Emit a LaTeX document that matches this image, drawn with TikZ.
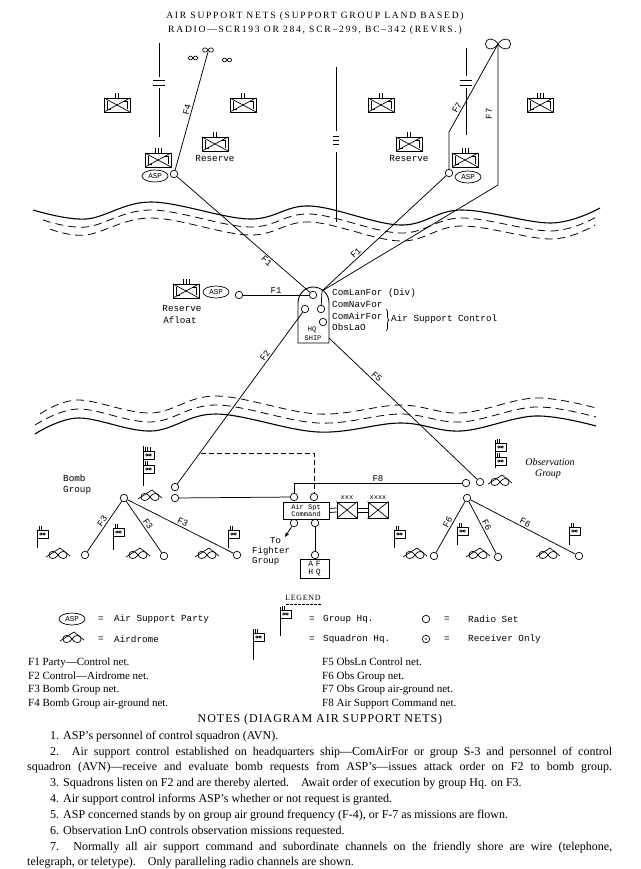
\documentclass[tikz,border=0pt]{standalone}
\usepackage{fontspec}
\setmainfont{Liberation Serif}
\newfontfamily\monof{Liberation Mono}
\usetikzlibrary{shapes.geometric,decorations.pathreplacing,arrows.meta}

\newcommand\infsign[3]{\begin{scope}[shift={(#1,#2)},scale=#3]
\draw[symline] (0,0) .. controls (3,-5) and (9,-4.5) .. (9,0) .. controls (9,4.5) and (3,5) .. (0,0) .. controls (-3,-5) and (-9,-4.5) .. (-9,0) .. controls (-9,4.5) and (-3,5) .. (0,0);
\end{scope}}
\newcommand\airdr[2]{\infsign{#1}{#2}{1}\begin{scope}[shift={(#1,#2)}]\draw[symline] (-12,2) -- (2,-7) -- (12,1);\end{scope}}
\newcommand\infunit[3]{\begin{scope}[shift={(#1,#2)}]
 \draw[symline,line width=0.9pt] (-13,-7) rectangle (13,7);
 \draw[symline] (-13,-7) -- (13,7) (-13,7) -- (13,-7);
 \draw[symline,line width=0.5pt] (-10,-4) -- (-10,4) -- (-6,4) (7,-4) -- (10,-4) -- (10,4);
 \foreach \k in {1,...,#3}{\draw[symline] ({(\k-(#3+1)/2)*3},-7) -- ++(0,-5);}
\end{scope}}
\newcommand\flagbox[3]{\begin{scope}[shift={(#1,#2)}]
 \draw[symline] (0,0) rectangle (11,8);
 \foreach \k in {1,...,#3}{\draw[symline,line width=0.5pt] ({2.5+(\k-1)*2.2},0) -- ++(0,-4);}
\end{scope}\infsign{#1+5.5}{#2+4}{0.32}}

\begin{document}
\begin{tikzpicture}[x=1pt,y=-1pt,
 symline/.style={line width=0.7pt,line join=round},
 net/.style={line width=0.75pt},
 wavedash/.style={line width=0.8pt,dash pattern=on 8pt off 5pt},
 radio/.style={circle,draw,line width=0.7pt,minimum size=7.5pt,inner sep=0pt},
 aspnode/.style={ellipse,draw,line width=0.7pt,minimum width=26pt,minimum height=12pt,inner sep=0pt,font=\monof\fontsize{7.5}{7.5}\selectfont},
 lab/.style={font=\monof\fontsize{9}{9}\selectfont,inner sep=1.5pt},
 hand/.style={font=\monof\fontsize{9.3}{10}\selectfont,inner sep=0pt},
 small/.style={font=\monof\fontsize{7}{7}\selectfont,inner sep=0pt},
 notef/.style={font=\fontsize{12}{13}\selectfont,inner sep=0pt,anchor=base west},
 listf/.style={font=\fontsize{11}{12}\selectfont,inner sep=0pt,anchor=base west},
]
\fill[white] (0,0) rectangle (640,869);
\useasboundingbox (0,0) rectangle (640,869);

% ---------- title
\node[font=\fontsize{9.6}{10}\selectfont\addfontfeature{LetterSpace=18},anchor=base,inner sep=0pt] (title1) at (315,19) {AIR SUPPORT NETS (SUPPORT GROUP LAND BASED)};
\node[font=\fontsize{9.6}{10}\selectfont\addfontfeature{LetterSpace=18},anchor=base,inner sep=0pt] (title2) at (315,33) {RADIO—SCR193 OR 284, SCR–299, BC–342 (REVRS.)};

% ---------- boundary lines
\draw[net] (159,43) -- (159,77) (159,88) -- (159,137);
\draw[net] (153,80) -- (165,80) (153,85) -- (165,85);
\draw[net] (466,48) -- (466,76) (466,88) -- (466,135);
\draw[net] (460,80) -- (472,80) (460,85) -- (472,85);
\draw[net] (336,67) -- (336,131) (336,152) -- (336,222);
\draw[net] (333,136) -- (339,136) (333,140) -- (339,140) (333,144) -- (339,144);

% ---------- front units
\infunit{117}{105}{2}
\infunit{243}{105}{2}
\infunit{381}{105}{2}
\infunit{540}{105}{3}
\infunit{215}{144}{2}
\infunit{409}{144}{2}
\node[hand] (resL) at (215,158) {Reserve};
\node[hand] (resR) at (409,158) {Reserve};
\infunit{158}{160}{3}
\infunit{465}{160}{3}
\node[aspnode] (aspL) at (155,176) {ASP};
\node[aspnode] (aspR) at (468,177) {ASP};
\node[radio] (rL) at (174,174) {};
\node[radio] (rR) at (449,173) {};

% ---------- aircraft (top)
\infsign{193}{58}{0.55}
\infsign{208}{50}{0.6}
\infsign{227}{60}{0.55}
\infsign{498}{44}{1.4}
\coordinate (airTL) at (208,52);
\coordinate (airTR) at (498,44);
\coordinate (f7bend) at (449,132);
\coordinate (f7c) at (498,185);

% ---------- shorelines
\draw[line width=1.1pt] plot[smooth,tension=0.6] coordinates {(33,210) (86,219) (151,202) (249,219) (310,206) (400,225) (461,210) (551,223) (600,208)};
\draw[wavedash] plot[smooth,tension=0.6] coordinates {(43,220) (86,227) (151,210) (249,227) (310,214) (400,233) (461,218) (551,231) (598,216)};
\draw[wavedash] plot[smooth,tension=0.6] coordinates {(50,229) (86,235) (151,218) (249,235) (310,222) (400,241) (461,226) (551,239) (595,225)};
\draw[line width=1.1pt] plot[smooth,tension=0.6] coordinates {(35,434) (78,418) (151,431) (216,414) (318,432) (400,423) (461,431) (535,416) (596,426)};
\draw[wavedash] plot[smooth,tension=0.6] coordinates {(35,425) (78,409) (151,422) (216,405) (318,423) (400,414) (461,422) (535,407) (596,417)};
\draw[wavedash] plot[smooth,tension=0.6] coordinates {(40,414) (78,400) (151,413) (216,396) (318,414) (400,405) (461,413) (535,398) (596,408)};

% ---------- HQ ship
\draw[symline,line width=0.9pt] (298,343) -- (298,303) .. controls (298,293) and (306,287) .. (313,287) .. controls (321,287) and (329,293) .. (329,303) -- (329,343) -- cycle;
\node[radio] (s1) at (313,295) {};
\node[radio] (s2) at (305,309) {};
\node[radio] (s3) at (321,309) {};
\node[radio] (s4) at (323,322) {};
\node[small] (hq) at (312,330) {HQ};
\node[small] (ship) at (313,338) {SHIP};
\coordinate (shipJ) at (322,291);
\coordinate (shipBR) at (329,338);
\node[hand,anchor=west] (clf) at (332,293) {ComLanFor (Div)};
\node[hand,anchor=west] (cnf) at (332,304.5) {ComNavFor};
\node[hand,anchor=west] (caf) at (332,316) {ComAirFor};
\node[hand,anchor=west] (obl) at (332,327.5) {ObsLaO};
\draw[symline,decorate,decoration={brace,amplitude=3pt}] (386,309) -- (386,331);
\node[hand,anchor=west] (asc) at (391,319) {Air Support Control};

% ---------- reserve afloat
\infunit{186}{291}{3}
\node[aspnode] (aspA) at (216,292) {ASP};
\node[radio] (rA) at (239,295) {};
\node[hand] (resA1) at (182,308) {Reserve};
\node[hand] (resA2) at (180,320) {Afloat};

% ---------- upper nets
\draw[net] (rL) -- node[lab,sloped,below,pos=0.7] {F1} (s1);
\draw[net] (rR) -- node[lab,sloped,above,pos=0.7] {F1} (shipJ);
\draw[net] (shipJ) -- (s3);
\draw[net] (rA) -- node[lab,above] {F1} (s1);
\draw[net] (rL) -- node[lab,sloped,above,pos=0.5] {F4} (airTL);
\draw[net] (rR) -- (f7bend) -- node[lab,sloped,above,pos=0.25] {F7} (airTR);
\draw[net] (airTR) -- (f7c) -- (shipJ);
\node[lab,rotate=90] (f7lab) at (489,114) {F7};

% ---------- bottom: bomb group
\node[radio] (b1) at (175,487) {};
\node[radio] (b2) at (175,498) {};
\node[radio] (bg) at (124,498) {};
\node[radio] (bs1) at (85,555) {};
\node[radio] (bs2) at (164,556) {};
\node[radio] (bs3) at (237,555) {};
\draw[net] (s2) -- node[lab,sloped,above,pos=0.27] {F2} (b1);
\draw[net] (bg) -- node[lab,sloped,above,pos=0.45] {F3} (bs1);
\draw[net] (bg) -- node[lab,sloped,above,pos=0.5] {F3} (bs2);
\draw[net] (bg) -- node[lab,sloped,above,pos=0.5] {F3} (bs3);
\airdr{150}{497}
\draw[symline] (143,446) -- (143,486);
\flagbox{143}{451}{3}
\flagbox{143}{465}{2}
\node[hand,anchor=west] (bomb1) at (63,478) {Bomb};
\node[hand,anchor=west] (bomb2) at (63,490) {Group};
\airdr{58}{555}
\airdr{138}{555}
\airdr{207}{555}
\draw[symline] (37,530) -- (37,548);  \flagbox{37}{530}{2}
\draw[symline] (113,528) -- (113,550); \flagbox{113}{528}{2}
\draw[symline] (228,530) -- (228,548); \flagbox{228}{530}{2}

% ---------- air support command
\node[draw,line width=0.8pt,minimum width=46pt,minimum height=17pt,inner sep=0pt,align=center,font=\monof\fontsize{7}{6.5}\selectfont] (cmd) at (306,510.5) {Air Spt\\Command};
\node[radio] (c1) at (294,497) {};
\node[radio] (c2) at (314,497) {};
\node[radio] (c3) at (294,523) {};
\node[radio] (c4) at (315,523) {};
\node[radio] (ca) at (315,555) {};
\node[draw,line width=0.8pt,minimum width=29pt,minimum height=19pt,inner sep=0pt,align=center,font=\monof\fontsize{8}{8}\selectfont] (afhq) at (314.5,568.5) {A\,\,F\\H\,\,Q};
\node[draw,line width=0.8pt,minimum width=20pt,minimum height=16pt,inner sep=0pt] (x1) at (347,510) {};
\node[draw,line width=0.8pt,minimum width=20pt,minimum height=16pt,inner sep=0pt] (x2) at (378,510) {};
\draw[symline] (x1.north west) -- (x1.south east) (x1.south west) -- (x1.north east);
\draw[symline] (x2.north west) -- (x2.south east) (x2.south west) -- (x2.north east);
\node[small,anchor=south] (x1l) at ([yshift=1.5pt]x1.north) {xxx};
\node[small,anchor=south] (x2l) at ([yshift=1.5pt]x2.north) {xxxx};
\draw[net] ([yshift=2pt]cmd.east) -- ([yshift=2pt]x1.west) ([yshift=-2pt]cmd.east) -- ([yshift=-2pt]x1.west);
\draw[net] ([yshift=2pt]x1.east) -- ([yshift=2pt]x2.west) ([yshift=-2pt]x1.east) -- ([yshift=-2pt]x2.west);
\draw[net] (b2) -- (c1);
\coordinate (dstart) at (201,453);
\draw[net,dash pattern=on 5pt off 3pt] (dstart) -| (c2);
\draw[net] (c4) -- (ca);
\coordinate (fgt) at (285,537);
\draw[net,-{Stealth[length=5pt,width=4pt]}] (c3) -- (fgt);
\node[hand,anchor=west,font=\monof\fontsize{9}{9}\selectfont] (to1) at (270,541) {To};
\node[hand,anchor=west,font=\monof\fontsize{9}{9}\selectfont] (to2) at (252,551) {Fighter};
\node[hand,anchor=west,font=\monof\fontsize{9}{9}\selectfont] (to3) at (252,561) {Group};

% ---------- observation group
\node[radio] (o1) at (466,483) {};
\node[radio] (o2) at (480,482) {};
\node[radio] (og) at (467,498) {};
\node[radio] (os1) at (434,556) {};
\node[radio] (os2) at (498,557) {};
\node[radio] (os3) at (579,556) {};
\draw[net] (shipBR) -- node[lab,sloped,above,pos=0.3] {F5} (o2);
\draw[net] (c1) |- node[lab,above,pos=0.75] {F8} (o1);
\draw[net] (og) -- node[lab,sloped,above,pos=0.45] {F6} (os1);
\draw[net] (og) -- node[lab,sloped,above,pos=0.5] {F6} (os2);
\draw[net] (og) -- node[lab,sloped,above,pos=0.5] {F6} (os3);
\airdr{500}{482}
\draw[symline] (495,440) -- (495,468);
\flagbox{495}{443}{2}
\flagbox{495}{457}{2}
\node[font=\itshape\fontsize{10}{10}\selectfont,inner sep=0pt] (obs1) at (550,462) {Observation};
\node[font=\itshape\fontsize{10}{10}\selectfont,inner sep=0pt] (obs2) at (548,474) {Group};
\airdr{415}{555}
\airdr{478}{555}
\airdr{548}{555}
\draw[symline] (394,530) -- (394,548); \flagbox{394}{530}{2}
\draw[symline] (457,527) -- (457,545); \flagbox{457}{527}{2}
\draw[symline] (569,527) -- (569,545); \flagbox{569}{527}{2}

% ---------- legend
\node[font=\fontsize{8}{8}\selectfont\addfontfeature{LetterSpace=8},inner sep=0pt] (legend) at (303,598) {LEGEND};
\draw[line width=0.5pt,dash pattern=on 2.5pt off 1.5pt] (286,604) -- (321,604);
\node[aspnode] (lgasp) at (72,619) {ASP};
\node[hand] (eq1) at (101,619) {=};
\node[hand,anchor=west] (t1) at (114,619) {Air Support Party};
\airdr{72}{639}
\node[hand] (eq2) at (101,639) {=};
\node[hand,anchor=west] (t2) at (114,639) {Airdrome};
\draw[symline] (280,607) -- (280,636); \flagbox{280}{610}{2}
\node[hand] (eq3) at (312,619) {=};
\node[hand,anchor=west] (t3) at (323,619) {Group Hq.};
\draw[symline] (253,629) -- (253,660); \flagbox{253}{633}{2}
\node[hand] (eq4) at (312,639) {=};
\node[hand,anchor=west] (t4) at (323,639) {Squadron Hq.};
\node[radio] (lgr) at (426,619) {};
\node[hand] (eq5) at (447,619) {=};
\node[hand,anchor=west] (t5) at (468,619) {Radio Set};
\node[radio] (lgrx) at (426,639) {};
\fill (lgrx) circle (0.9);
\node[hand] (eq6) at (447,639) {=};
\node[hand,anchor=west] (t6) at (468,639) {Receiver Only};

% ---------- nets list
\node[listf] (n1) at (28,665) {F1 Party—Control net.};
\node[listf] (n2) at (28,679) {F2 Control—Airdrome net.};
\node[listf] (n3) at (28,692.5) {F3 Bomb Group net.};
\node[listf] (n4) at (28,706) {F4 Bomb Group air-ground net.};
\node[listf] (n5) at (322,665) {F5 ObsLn Control net.};
\node[listf] (n6) at (322,679) {F6 Obs Group net.};
\node[listf] (n7) at (322,692.5) {F7 Obs Group air-ground net.};
\node[listf] (n8) at (322,706) {F8 Air Support Command net.};

% ---------- notes
\node[font=\fontsize{12}{12}\selectfont\addfontfeature{LetterSpace=8},anchor=base,inner sep=0pt] (notes) at (320,722) {NOTES (DIAGRAM AIR SUPPORT NETS)};
\node[notef] (p1) at (50,739) {1. ASP's personnel of control squadron (AVN).};
\node[notef] (p2a) at (50,755) {\makebox[562pt][s]{2. Air support control established on headquarters ship—ComAirFor or group S-3 and personnel of control}};
\node[notef] (p2b) at (27,770) {\makebox[585pt][s]{squadron (AVN)—receive and evaluate bomb requests from ASP's—issues attack order on F2 to bomb group.}};
\node[notef] (p3) at (50,786) {3. Squadrons listen on F2 and are thereby alerted.\quad Await order of execution by group Hq. on F3.};
\node[notef] (p4) at (50,802) {4. Air support control informs ASP's whether or not request is granted.};
\node[notef] (p5) at (50,818) {5. ASP concerned stands by on group air ground frequency (F-4), or F-7 as missions are flown.};
\node[notef] (p6) at (50,834) {6. Observation LnO controls observation missions requested.};
\node[notef] (p7a) at (50,850) {\makebox[562pt][s]{7. Normally all air support command and subordinate channels on the friendly shore are wire (telephone,}};
\node[notef] (p7b) at (27,865) {telegraph, or teletype).\quad Only paralleling radio channels are shown.};
\end{tikzpicture}
\end{document}
